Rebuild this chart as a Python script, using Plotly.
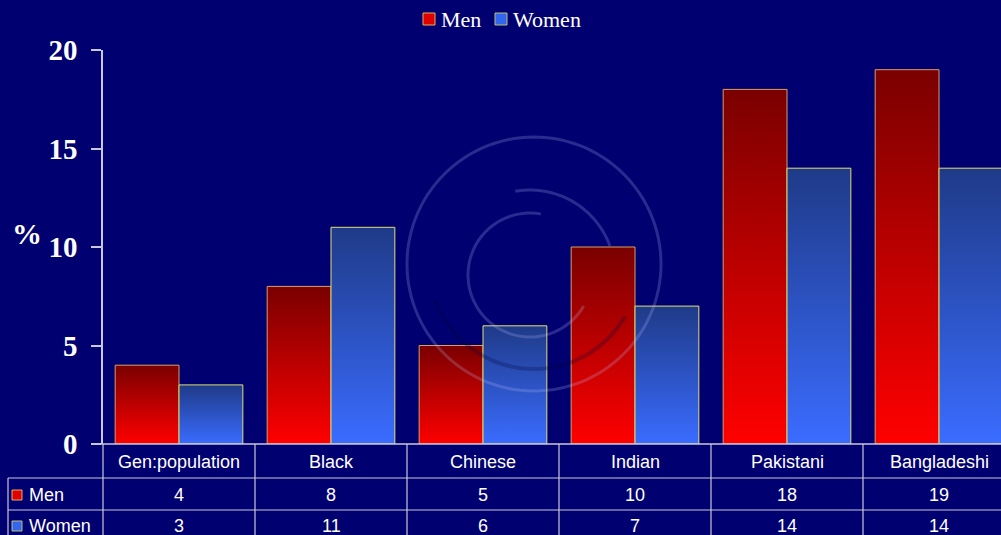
import math
import plotly.graph_objects as go

categories = ["Gen:population", "Black", "Chinese", "Indian", "Pakistani", "Bangladeshi"]
men = [4, 8, 5, 10, 18, 19]
women = [3, 11, 6, 7, 14, 14]
y_ticks = [0, 5, 10, 15, 20]
series_names = ["Men", "Women"]

BG = "#000070"
GRID = "#c8c8d8"
W, H = 1001, 535
L, R, T, B = 103, 1001, 50, 444
PW, PH = R - L, B - T


def px(xp):
    return (xp - L) / PW


def py(yp):
    return (B - yp) / PH


fig = go.Figure()
BW = 0.42
red_scale = [[0, "#ff0000"], [1, "#7a0000"]]
blue_scale = [[0, "#3a6cff"], [1, "#1f3a88"]]
RED_EDGE, BLUE_EDGE = "#d8a060", "#e0e070"

for i, (m, w) in enumerate(zip(men, women)):
    fig.add_trace(go.Scatter(
        x=[i - BW, i, i, i - BW, i - BW], y=[0, 0, m, m, 0],
        mode="lines", fill="toself",
        fillgradient=dict(type="vertical", colorscale=red_scale),
        line=dict(color=RED_EDGE, width=1), showlegend=False, hoverinfo="skip", name="Men"))
    fig.add_trace(go.Scatter(
        x=[i, i + BW, i + BW, i, i], y=[0, 0, w, w, 0],
        mode="lines", fill="toself",
        fillgradient=dict(type="vertical", colorscale=blue_scale),
        line=dict(color=BLUE_EDGE, width=1), showlegend=False, hoverinfo="skip", name="Women"))

shapes = []
ann = []

# table grid
line = dict(color=GRID, width=1.2)
shapes.append(dict(type="line", xref="paper", yref="paper", x0=px(8), x1=px(R), y0=py(478), y1=py(478), line=line))
shapes.append(dict(type="line", xref="paper", yref="paper", x0=px(8), x1=px(R), y0=py(510), y1=py(510), line=line))
shapes.append(dict(type="line", xref="paper", yref="paper", x0=px(8), x1=px(8), y0=py(478), y1=py(540), line=line))
shapes.append(dict(type="line", xref="paper", yref="paper", x0=px(L), x1=px(L), y0=py(444), y1=py(540), line=line))
for i in range(len(categories)):
    shapes.append(dict(type="line", xref="x", yref="paper", x0=i + 0.5, x1=i + 0.5,
                       y0=py(444), y1=py(540), line=line))

tfont = dict(family="Arial, Liberation Sans", size=18, color="white")
for i, c in enumerate(categories):
    for yy, txt in ((462, c), (495, str(men[i])), (526, str(women[i]))):
        ann.append(dict(x=i, y=py(yy), xref="x", yref="paper", text=txt, showarrow=False,
                        font=tfont, xanchor="center", yanchor="middle"))

ann.append(dict(x=px(27), y=py(495), xref="paper", yref="paper", text=series_names[0], showarrow=False,
                font=tfont, xanchor="left", yanchor="middle"))
ann.append(dict(x=px(27), y=py(526), xref="paper", yref="paper", text=series_names[1], showarrow=False,
                font=tfont, xanchor="left", yanchor="middle"))
shapes.append(dict(type="rect", xref="paper", yref="paper", x0=px(12), x1=px(22), y0=py(500), y1=py(490),
                   fillcolor="#e00000", line=dict(color="#e0b060", width=1)))
shapes.append(dict(type="rect", xref="paper", yref="paper", x0=px(12), x1=px(22), y0=py(531), y1=py(521),
                   fillcolor="#3366ee", line=dict(color="#b8c070", width=1)))

# legend (manual)
lfont = dict(family="Liberation Serif, Times New Roman", size=22, color="white")
shapes.append(dict(type="rect", xref="paper", yref="paper", x0=px(423), x1=px(435), y0=py(25), y1=py(13),
                   fillcolor="#e00000", line=dict(color="#e0b060", width=1)))
shapes.append(dict(type="rect", xref="paper", yref="paper", x0=px(495), x1=px(507), y0=py(25), y1=py(13),
                   fillcolor="#3366ee", line=dict(color="#b8c070", width=1)))
ann.append(dict(x=px(439), y=py(19), xref="paper", yref="paper", text=series_names[0], showarrow=False,
                font=lfont, xanchor="left", yanchor="middle"))
ann.append(dict(x=px(511), y=py(19), xref="paper", yref="paper", text=series_names[1], showarrow=False,
                font=lfont, xanchor="left", yanchor="middle"))

ann.append(dict(x=px(27), y=py(233), xref="paper", yref="paper", text="<b>%</b>", showarrow=False,
                font=dict(family="Liberation Serif, Times New Roman", size=30, color="white"),
                xanchor="center", yanchor="middle"))


# watermark circles
def arc(cx, cy, r, a0, a1, n=60):
    pts = []
    for k in range(n + 1):
        a = math.radians(a0 + (a1 - a0) * k / n)
        pts.append((px(cx + r * math.cos(a)), py(cy - r * math.sin(a))))
    return "M " + " L ".join(f"{x:.5f},{y:.5f}" for x, y in pts)


wm = dict(color="rgba(190,190,255,0.22)", width=3)
shapes.append(dict(type="path", xref="paper", yref="paper", path=arc(534, 264, 127, 0, 360, 120),
                   line=wm, layer="above"))
shapes.append(dict(type="path", xref="paper", yref="paper", path=arc(530, 275, 85, 20, 100),
                   line=wm, layer="above"))
shapes.append(dict(type="path", xref="paper", yref="paper", path=arc(530, 275, 62, 80, 330),
                   line=wm, layer="above"))
shapes.append(dict(type="path", xref="paper", yref="paper", path=arc(534, 264, 105, 200, 330),
                   line=dict(color="rgba(0,0,60,0.25)", width=4), layer="above"))

shapes.append(dict(type="line", xref="paper", yref="paper", x0=px(93), x1=px(R), y0=0, y1=0,
                   line=dict(color=GRID, width=1.5)))

fig.update_layout(
    width=W, height=H,
    margin=dict(l=L, r=W - R, t=T, b=H - B, pad=0),
    paper_bgcolor=BG, plot_bgcolor=BG,
    shapes=shapes, annotations=ann,
    showlegend=False,
    xaxis=dict(range=[-0.5, 5.5 - 14 / 152], showticklabels=False, showgrid=False, zeroline=False,
               showline=False, ticks=""),
    yaxis=dict(range=[0, 20], tickvals=y_ticks, showgrid=False, zeroline=False,
               showline=True, linecolor=GRID, linewidth=1.5, ticks="outside", ticklen=10,
               tickcolor=GRID, tickwidth=1.5, ticklabelstandoff=8,
               tickfont=dict(family="Liberation Serif, Times New Roman", size=29, color="white",
                             weight="bold")),
)

fig.write_html("out.html")
